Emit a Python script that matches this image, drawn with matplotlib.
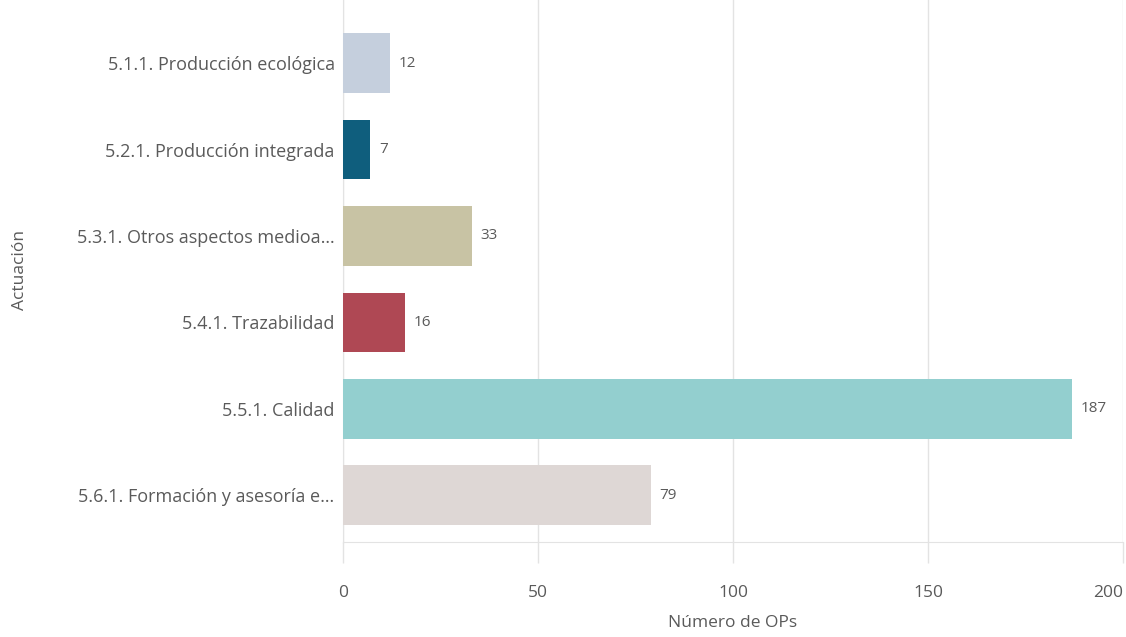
import matplotlib
matplotlib.use('agg')

import matplotlib.pyplot as plt
import numpy as np

actuaciones = [
    '5.1.1. Producción ecológica',
    '5.2.1. Producción integrada',
    '5.3.1. Otros aspectos medioa…',
    '5.4.1. Trazabilidad',
    '5.5.1. Calidad',
    '5.6.1. Formación y asesoría e…',
]
num_ops = [12, 7, 33, 16, 187, 79]
colores = ['#c5cfdd', '#0f5e7d', '#c8c3a4', '#af4854', '#93cfcf', '#ded7d5']

plt.rcParams['font.family'] = ['Open Sans', 'DejaVu Sans']
texto = '#5a5a5a'
rejilla = '#e3e3e3'

fig = plt.figure(figsize=(11.26, 6.37), dpi=100)
ax = fig.add_axes([343 / 1126, 1 - 542 / 637, (1123 - 343) / 1126, 542 / 637])

y = np.arange(len(actuaciones))
ax.barh(y, num_ops, height=0.69, color=colores, zorder=3)
for yi, v in zip(y, num_ops):
    ax.text(v + 2.2, yi, str(v), va='center', ha='left', fontsize=11, color=texto, zorder=4)

ax.set_xlim(0, 200)
ax.set_ylim(5.54, -0.73)
ax.set_yticks(y)
ax.set_yticklabels(actuaciones, fontsize=13, color=texto)
ax.set_xticks([0, 50, 100, 150, 200])
ax.tick_params(axis='y', length=0, pad=6)
ax.tick_params(axis='x', length=15, width=1, color=rejilla, labelsize=12.5, labelcolor=texto, pad=16)
ax.get_xticklabels()[-1].set_horizontalalignment('right')
ax.grid(axis='x', color=rejilla, linewidth=1, zorder=0)

for s in ['top', 'right']:
    ax.spines[s].set_visible(False)
ax.spines['left'].set_color(rejilla)
ax.spines['bottom'].set_color(rejilla)

ax.set_xlabel('Número de OPs', fontsize=12.5, color=texto, labelpad=10)
fig.text(20 / 1126, 1 - 270 / 637, 'Actuación', rotation=90, ha='center', va='center',
         fontsize=12.5, color=texto)

fig.savefig('out.png', dpi=100, facecolor='white')
